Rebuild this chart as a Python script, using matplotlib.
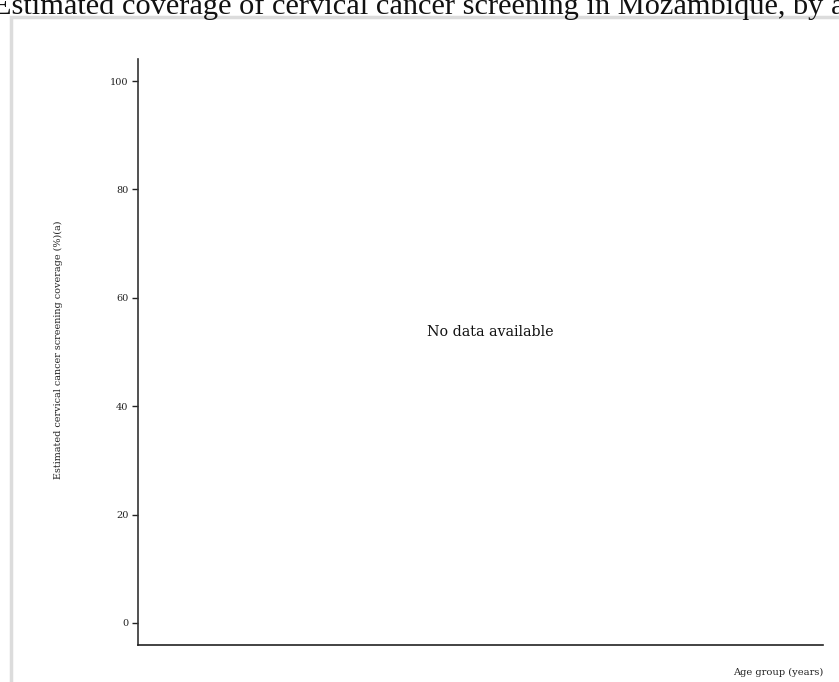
import matplotlib
matplotlib.use("Agg")
import matplotlib.pyplot as plt
from matplotlib.patches import Rectangle

# no age groups / coverage values are available for this country
age_groups = []
coverage = []
y_ticks = [0, 20, 40, 60, 80, 100]

title = "Estimated coverage of cervical cancer screening in Mozambique, by age group"
y_label = "Estimated cervical cancer screening coverage (%)(a)"
x_label = "Age group (years)"
empty_msg = "No data available"

W, H = 839, 682
fig = plt.figure(figsize=(W / 100, H / 100), dpi=100)

# light grey frame that runs off the right and bottom edges
fig.patches.append(Rectangle((11 / W, -0.1), 1.2, (H - 16.5) / H + 0.1,
                             transform=fig.transFigure, fill=False,
                             edgecolor="#dcdcdc", linewidth=2.5))

fig.text(-7 / W, 1 - 14 / H, title, ha="left", va="baseline",
         family="Liberation Serif", fontsize=21.9, color="#111111")

ax = fig.add_axes([138 / W, (H - 645) / H, (823 - 138) / W, (645 - 59) / H])
ax.bar(age_groups, coverage)
ax.set_ylim(-4.06, 104.06)
ax.set_xlim(0, 1)
ax.set_yticks(y_ticks)
ax.set_xticks([])
ax.tick_params(axis="y", length=4, width=1, color="#222222", pad=3,
               labelsize=7, labelcolor="#222222")
for lbl in ax.get_yticklabels():
    lbl.set_family("DejaVu Serif")
for side in ["top", "right"]:
    ax.spines[side].set_visible(False)
ax.spines["left"].set_color("#333333")
ax.spines["bottom"].set_color("#222222")
ax.spines["left"].set_linewidth(1.2)
ax.spines["bottom"].set_linewidth(1.2)

fig.text(58 / W, 1 - 350 / H, y_label, rotation=90, ha="center", va="center",
         family="DejaVu Serif", fontsize=6.9, color="#222222")
fig.text(823 / W, 1 - 672 / H, x_label, ha="right", va="center",
         family="DejaVu Serif", fontsize=7.1, color="#222222")
ax.text(0.515, 0.534, empty_msg, transform=ax.transAxes, ha="center",
        va="center", family="DejaVu Serif", fontsize=10.3, color="#111111")

fig.savefig("out.png", dpi=100)
